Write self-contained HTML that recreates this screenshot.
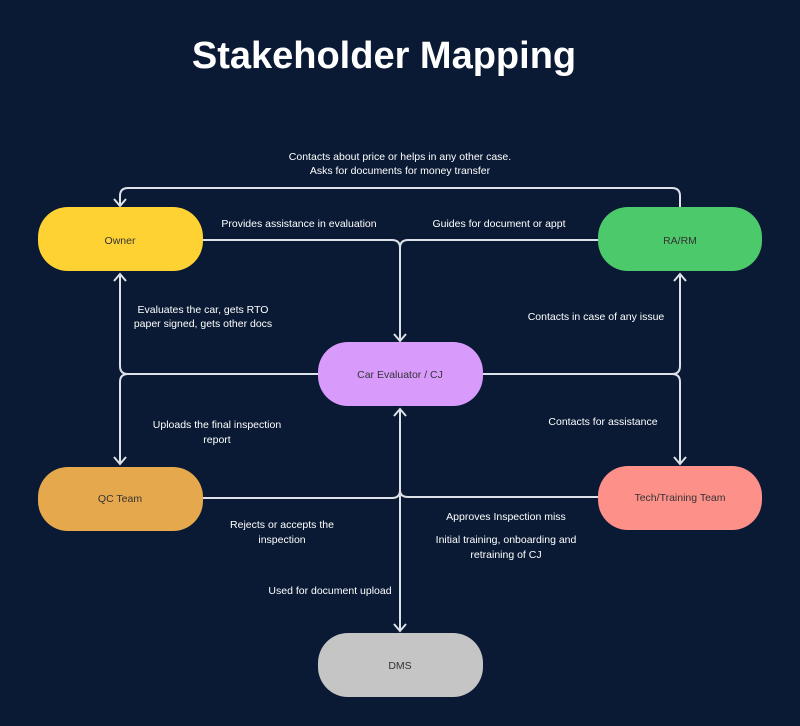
<!DOCTYPE html>
<html><head><meta charset="utf-8"><style>
html,body{margin:0;padding:0;background:#0a1a34;}
svg{display:block;font-family:"Liberation Sans",sans-serif;}
</style></head><body>
<svg width="800" height="726" viewBox="0 0 800 726">
<rect width="800" height="726" fill="#0a1a34"/>
<text x="384" y="68" fill="#fff" font-size="38" font-weight="bold" text-anchor="middle">Stakeholder Mapping</text>
<g fill="none" stroke="#dde1e8" stroke-width="2">
<path d="M680 207 V196 Q680 188 672 188 H128 Q120 188 120 196 V205"/>
<path d="M203 240 H392 Q400 240 400 248 V340"/>
<path d="M598 240 H408 Q400 240 400 248"/>
<path d="M318 374 H128 Q120 374 120 366 V274"/>
<path d="M128 374 Q120 374 120 382 V464"/>
<path d="M483 374 H672 Q680 374 680 366 V274"/>
<path d="M672 374 Q680 374 680 382 V464"/>
<path d="M203 498 H392 Q400 498 400 490 V409"/>
<path d="M598 497 H408 Q400 497 400 490"/>
<path d="M400 490 V630"/>
<path d="M114 199 L120 206 L126 199"/>
<path d="M394 334 L400 341 L406 334"/>
<path d="M114 281 L120 274 L126 281"/>
<path d="M674 281 L680 274 L686 281"/>
<path d="M114 457 L120 464 L126 457"/>
<path d="M674 457 L680 464 L686 457"/>
<path d="M394 416 L400 409 L406 416"/>
<path d="M394 624 L400 631 L406 624"/>
</g>
<rect x="38" y="207" width="165" height="64" rx="30" fill="#fed232"/>
<rect x="598" y="207" width="164" height="64" rx="30" fill="#4cc96a"/>
<rect x="318" y="342" width="165" height="64" rx="30" fill="#d99bfb"/>
<rect x="38" y="467" width="165" height="64" rx="30" fill="#e6a84c"/>
<rect x="598" y="466" width="164" height="64" rx="30" fill="#fd918a"/>
<rect x="318" y="633" width="165" height="64" rx="30" fill="#c5c5c5"/>
<g font-size="10.5" fill="#333" text-anchor="middle">
<text x="120" y="244">Owner</text>
<text x="680" y="244">RA/RM</text>
<text x="400" y="378">Car Evaluator / CJ</text>
<text x="120" y="502">QC Team</text>
<text x="680" y="501">Tech/Training Team</text>
<text x="400" y="669">DMS</text>
</g>
<g font-size="10.5" fill="#fff" text-anchor="middle">
<text x="400" y="160">Contacts about price or helps in any other case.</text>
<text x="400" y="174">Asks for documents for money transfer</text>
<text x="299" y="227">Provides assistance in evaluation</text>
<text x="499" y="227">Guides for document or appt</text>
<text x="203" y="313">Evaluates the car, gets RTO</text>
<text x="203" y="327">paper signed, gets other docs</text>
<text x="596" y="320">Contacts in case of any issue</text>
<text x="217" y="428">Uploads the final inspection</text>
<text x="217" y="443">report</text>
<text x="603" y="425">Contacts for assistance</text>
<text x="282" y="528">Rejects or accepts the</text>
<text x="282" y="543">inspection</text>
<text x="506" y="520">Approves Inspection miss</text>
<text x="506" y="543">Initial training, onboarding and</text>
<text x="506" y="558">retraining of CJ</text>
<text x="330" y="594">Used for document upload</text>
</g>
</svg>
</body></html>
